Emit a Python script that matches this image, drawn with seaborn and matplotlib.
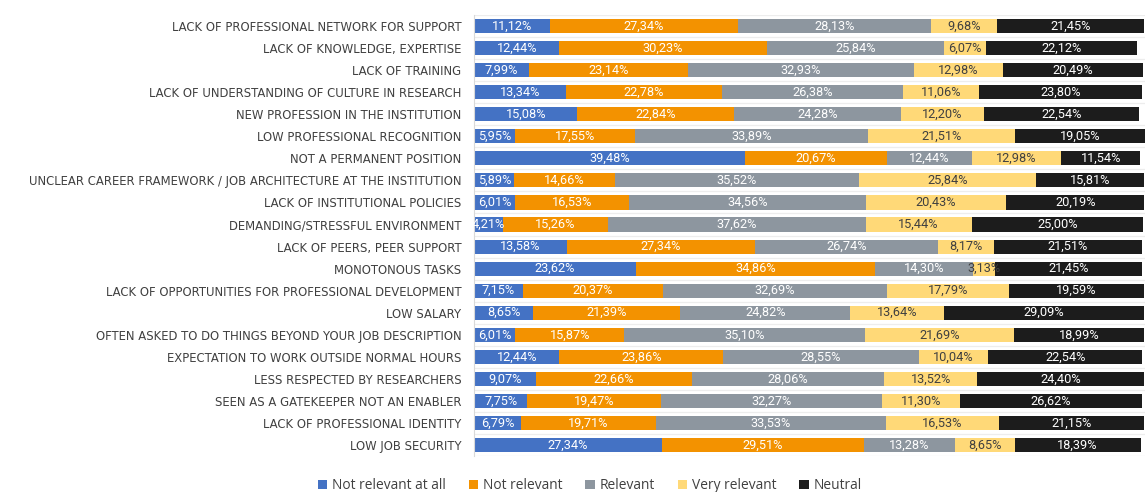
import numpy as np
import pandas as pd
import matplotlib
matplotlib.use("Agg")
import matplotlib.pyplot as plt
from matplotlib.patches import Patch
import seaborn as sns

categories = [
    "LACK OF PROFESSIONAL NETWORK FOR SUPPORT",
    "LACK OF KNOWLEDGE, EXPERTISE",
    "LACK OF TRAINING",
    "LACK OF UNDERSTANDING OF CULTURE IN RESEARCH",
    "NEW PROFESSION IN THE INSTITUTION",
    "LOW PROFESSIONAL RECOGNITION",
    "NOT A PERMANENT POSITION",
    "UNCLEAR CAREER FRAMEWORK / JOB ARCHITECTURE AT THE INSTITUTION",
    "LACK OF INSTITUTIONAL POLICIES",
    "DEMANDING/STRESSFUL ENVIRONMENT",
    "LACK OF PEERS, PEER SUPPORT",
    "MONOTONOUS TASKS",
    "LACK OF OPPORTUNITIES FOR PROFESSIONAL DEVELOPMENT",
    "LOW SALARY",
    "OFTEN ASKED TO DO THINGS BEYOND YOUR JOB DESCRIPTION",
    "EXPECTATION TO WORK OUTSIDE NORMAL HOURS",
    "LESS RESPECTED BY RESEARCHERS",
    "SEEN AS A GATEKEEPER NOT AN ENABLER",
    "LACK OF PROFESSIONAL IDENTITY",
    "LOW JOB SECURITY",
]

series_names = ["Not relevant at all", "Not relevant", "Relevant", "Very relevant", "Neutral"]

not_relevant_at_all = [11.12, 12.44, 7.99, 13.34, 15.08, 5.95, 39.48, 5.89, 6.01, 4.21,
                       13.58, 23.62, 7.15, 8.65, 6.01, 12.44, 9.07, 7.75, 6.79, 27.34]
not_relevant = [27.34, 30.23, 23.14, 22.78, 22.84, 17.55, 20.67, 14.66, 16.53, 15.26,
                27.34, 34.86, 20.37, 21.39, 15.87, 23.86, 22.66, 19.47, 19.71, 29.51]
relevant = [28.13, 25.84, 32.93, 26.38, 24.28, 33.89, 12.44, 35.52, 34.56, 37.62,
            26.74, 14.30, 32.69, 24.82, 35.10, 28.55, 28.06, 32.27, 33.53, 13.28]
very_relevant = [9.68, 6.07, 12.98, 11.06, 12.20, 21.51, 12.98, 25.84, 20.43, 15.44,
                 8.17, 3.13, 17.79, 13.64, 21.69, 10.04, 13.52, 11.30, 16.53, 8.65]
neutral = [21.45, 22.12, 20.49, 23.80, 22.54, 19.05, 11.54, 15.81, 20.19, 25.00,
           21.51, 21.45, 19.59, 29.09, 18.99, 22.54, 24.40, 26.62, 21.15, 18.39]

colors = ["#4472C4", "#F39200", "#8D969F", "#FFD978", "#1C1C1C"]
label_colors = ["white", "white", "white", "#404040", "white"]

values = np.array([not_relevant_at_all, not_relevant, relevant, very_relevant, neutral])
cum = np.cumsum(values, axis=0)

df = pd.DataFrame({"category": categories})
for i, name in enumerate(series_names):
    df[name] = values[i]
    df[name + "_end"] = cum[i]

sns.set_theme(style="white")
plt.rcParams["font.family"] = ["Open Sans", "DejaVu Sans"]

fig = plt.figure(figsize=(11.45, 4.92), dpi=100)
ax = fig.add_axes([0.414, 0.073, 0.586, 0.8965])

# stacked bars: draw cumulative totals from the outermost segment inwards
for i in range(len(series_names) - 1, -1, -1):
    sns.barplot(data=df, x=series_names[i] + "_end", y="category", orient="h",
                color=colors[i], saturation=1, width=0.64, ax=ax, linewidth=0)

# segment value labels
for i, name in enumerate(series_names):
    for j in range(len(categories)):
        v = values[i][j]
        xc = cum[i][j] - v / 2
        ax.text(xc, j, f"{v:.2f}%".replace(".", ","), ha="center", va="center",
                color=label_colors[i], fontsize=9.2, family=["Roboto", "DejaVu Sans"])

# faint row separators
for j in range(len(categories) + 1):
    ax.axhline(j - 0.5, color="#ededed", lw=0.9, zorder=0)

ax.set_xlim(0, 97.8)
ax.set_ylim(len(categories) - 0.5, -0.5)
ax.set_xlabel("")
ax.set_ylabel("")
ax.set_xticks([])
for s in ["top", "right", "bottom"]:
    ax.spines[s].set_visible(False)
ax.spines["left"].set_color("#d9d9d9")
ax.spines["left"].set_linewidth(0.8)
ax.tick_params(axis="y", length=0, pad=9, labelcolor="#404040")
for t in ax.get_yticklabels():
    t.set_fontfamily("DejaVu Sans")
    t.set_fontsize(8.4)

handles = [Patch(facecolor=c, edgecolor="none", label=n) for c, n in zip(colors, series_names)]
fig.legend(handles=handles, loc="lower center", bbox_to_anchor=(0.515, -0.028), ncol=5,
           frameon=False, fontsize=9.9, handlelength=0.7, handleheight=0.7,
           handletextpad=0.3, columnspacing=1.7, labelcolor="#404040")

fig.savefig("out.png", dpi=100)
